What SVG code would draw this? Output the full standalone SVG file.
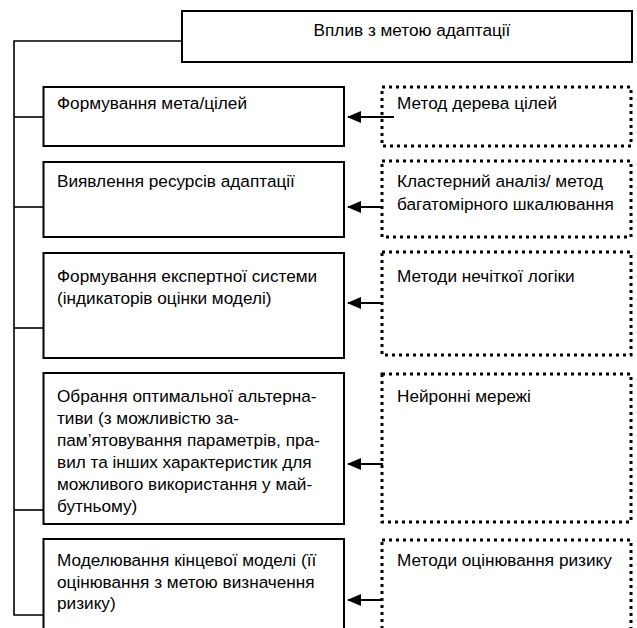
<svg xmlns="http://www.w3.org/2000/svg" width="637" height="628" viewBox="0 0 637 628">
<style>
.box{fill:#fff;stroke:#000;stroke-width:2}
.dot{fill:none;stroke:#000;stroke-width:3;stroke-dasharray:3 4}
.ln{fill:none;stroke:#000;stroke-width:1.6}
.ar{fill:none;stroke:#000;stroke-width:2.2}
text{font-family:"Liberation Sans",Arial,sans-serif;font-size:17.2px;fill:#000}
</style>
<defs>
<marker id="ah" markerWidth="14" markerHeight="12" refX="13" refY="6" orient="auto" markerUnits="userSpaceOnUse">
<path d="M0,0 L14,6 L0,12 Z" fill="#000"/>
</marker>
</defs>
<rect width="637" height="628" fill="#fff"/>
<g id="connectors">
<polyline class="ln" points="182,41 14,41 14,615 43,615"/>
<line class="ln" x1="14" y1="117" x2="43" y2="117"/>
<line class="ln" x1="14" y1="207" x2="43" y2="207"/>
<line class="ln" x1="14" y1="328" x2="43" y2="328"/>
<line class="ln" x1="14" y1="510" x2="43" y2="510"/>
<line class="ar" x1="394" y1="117" x2="348" y2="117" marker-end="url(#ah)"/>
<line class="ar" x1="383" y1="207" x2="348" y2="207" marker-end="url(#ah)"/>
<line class="ar" x1="383" y1="303" x2="348" y2="303" marker-end="url(#ah)"/>
<line class="ar" x1="383" y1="464" x2="348" y2="464" marker-end="url(#ah)"/>
<line class="ar" x1="383" y1="600" x2="348" y2="600" marker-end="url(#ah)"/>
</g>
<g id="top">
<rect class="box" x="182" y="11" width="450" height="51"/>
<text x="412" y="36" text-anchor="middle">Вплив з метою адаптації</text>
</g>
<g id="n1">
<rect class="box" x="43.5" y="87" width="300.5" height="59"/>
<text x="57" y="109">Формування мета/цілей</text>
</g>
<g id="n2">
<rect class="box" x="43.5" y="162" width="300.5" height="75"/>
<text x="57" y="187">Виявлення ресурсів адаптації</text>
</g>
<g id="n3">
<rect class="box" x="43.5" y="253" width="300.5" height="105"/>
<text x="57" y="282">Формування експертної системи</text>
<text x="57" y="304">(індикаторів оцінки моделі)</text>
</g>
<g id="n4">
<rect class="box" x="43.5" y="373" width="300.5" height="151"/>
<text x="57" y="402">Обрання оптимальної альтерна-</text>
<text x="57" y="424">тиви (з можливістю за-</text>
<text x="57" y="446">пам’ятовування параметрів, пра-</text>
<text x="57" y="468">вил та інших характеристик для</text>
<text x="57" y="490">можливого використання у май-</text>
<text x="57" y="512">бутньому)</text>
</g>
<g id="n5">
<rect class="box" x="43.5" y="539" width="300.5" height="100"/>
<text x="57" y="566">Моделювання кінцевої моделі (її</text>
<text x="57" y="588">оцінювання з метою визначення</text>
<text x="57" y="609">ризику)</text>
</g>
<g id="m1">
<rect class="dot" x="382" y="87" width="249" height="59"/>
<text x="397" y="109">Метод дерева цілей</text>
</g>
<g id="m2">
<rect class="dot" x="382" y="161" width="249" height="76"/>
<text x="397" y="187">Кластерний аналіз/ метод</text>
<text x="397" y="210">багатомірного шкалювання</text>
</g>
<g id="m3">
<rect class="dot" x="382" y="252" width="249" height="103"/>
<text x="397" y="282">Методи нечіткої логіки</text>
</g>
<g id="m4">
<rect class="dot" x="382" y="374" width="249" height="148"/>
<text x="397" y="402">Нейронні мережі</text>
</g>
<g id="m5">
<rect class="dot" x="382" y="540" width="249" height="100"/>
<text x="397" y="566">Методи оцінювання ризику</text>
</g>
</svg>
